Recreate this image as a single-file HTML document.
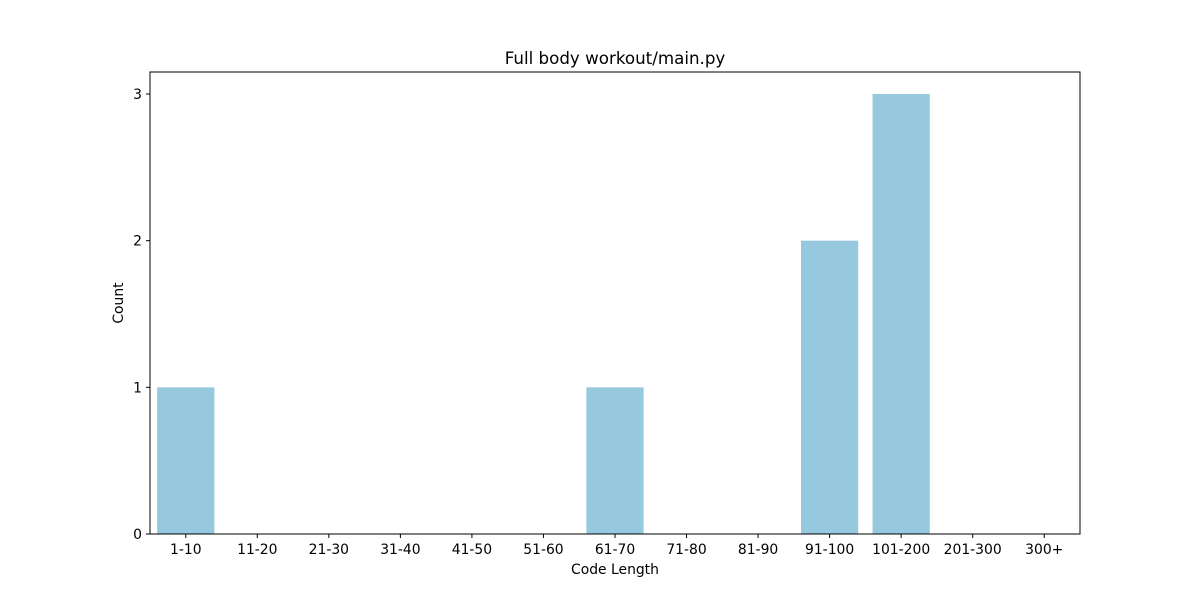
<!DOCTYPE html>
<html><head><meta charset="utf-8"><style>
body{margin:0;background:#fff}
svg{display:block;font-family:"DejaVu Sans",sans-serif}
</style></head><body>
<svg id="chart" width="1200" height="600">
<rect width="1200" height="600" fill="#fff"/>
<text x="615" y="64" font-size="16.7" text-anchor="middle">Full body workout/main.py</text>
<g id="bars"></g>
<g id="xticks"></g>
<g id="yticks"></g>
<rect x="150" y="72" width="930" height="462" fill="none" stroke="#000" stroke-width="1"/>
<text x="615" y="574" font-size="13.9" text-anchor="middle">Code Length</text>
<text x="123" y="303" font-size="13.9" text-anchor="middle" transform="rotate(-90 123 303)">Count</text>
</svg>
<script>
const categories=["1-10","11-20","21-30","31-40","41-50","51-60","61-70","71-80","81-90","91-100","101-200","201-300","300+"];
const counts=[1,0,0,0,0,0,1,0,0,2,3,0,0];
const yTicks=[0,1,2,3];
const L=150,R=1080,T=72,B=534,yMax=3.15;
const NS="http://www.w3.org/2000/svg";
const step=(R-L)/categories.length;
const xc=i=>L+(i+0.5)*step;
const y=v=>B-(v/yMax)*(B-T);
const bars=document.getElementById('bars'),xt=document.getElementById('xticks'),yt=document.getElementById('yticks');
categories.forEach((c,i)=>{
  const r=document.createElementNS(NS,'rect');
  r.setAttribute('x',xc(i)-step*0.4);r.setAttribute('width',step*0.8);
  r.setAttribute('y',y(counts[i]));r.setAttribute('height',B-y(counts[i]));
  r.setAttribute('fill','#97c9de');
  
  
  bars.appendChild(r);
  const l=document.createElementNS(NS,'line');
  l.setAttribute('x1',xc(i));l.setAttribute('x2',xc(i));l.setAttribute('y1',B);l.setAttribute('y2',B+4);l.setAttribute('stroke','#000');
  xt.appendChild(l);
  const t=document.createElementNS(NS,'text');
  t.setAttribute('x',xc(i));t.setAttribute('y',B+20);t.setAttribute('font-size','13.9');t.setAttribute('text-anchor','middle');
  t.textContent=c;
  
  
  xt.appendChild(t);
});
yTicks.forEach(v=>{
  const l=document.createElementNS(NS,'line');
  l.setAttribute('x1',L-4);l.setAttribute('x2',L);l.setAttribute('y1',y(v));l.setAttribute('y2',y(v));l.setAttribute('stroke','#000');
  yt.appendChild(l);
  const t=document.createElementNS(NS,'text');
  t.setAttribute('x',L-8);t.setAttribute('y',y(v)+5);t.setAttribute('font-size','13.9');t.setAttribute('text-anchor','end');
  t.textContent=v;
  
  
  yt.appendChild(t);
});
</script>
</body></html>
